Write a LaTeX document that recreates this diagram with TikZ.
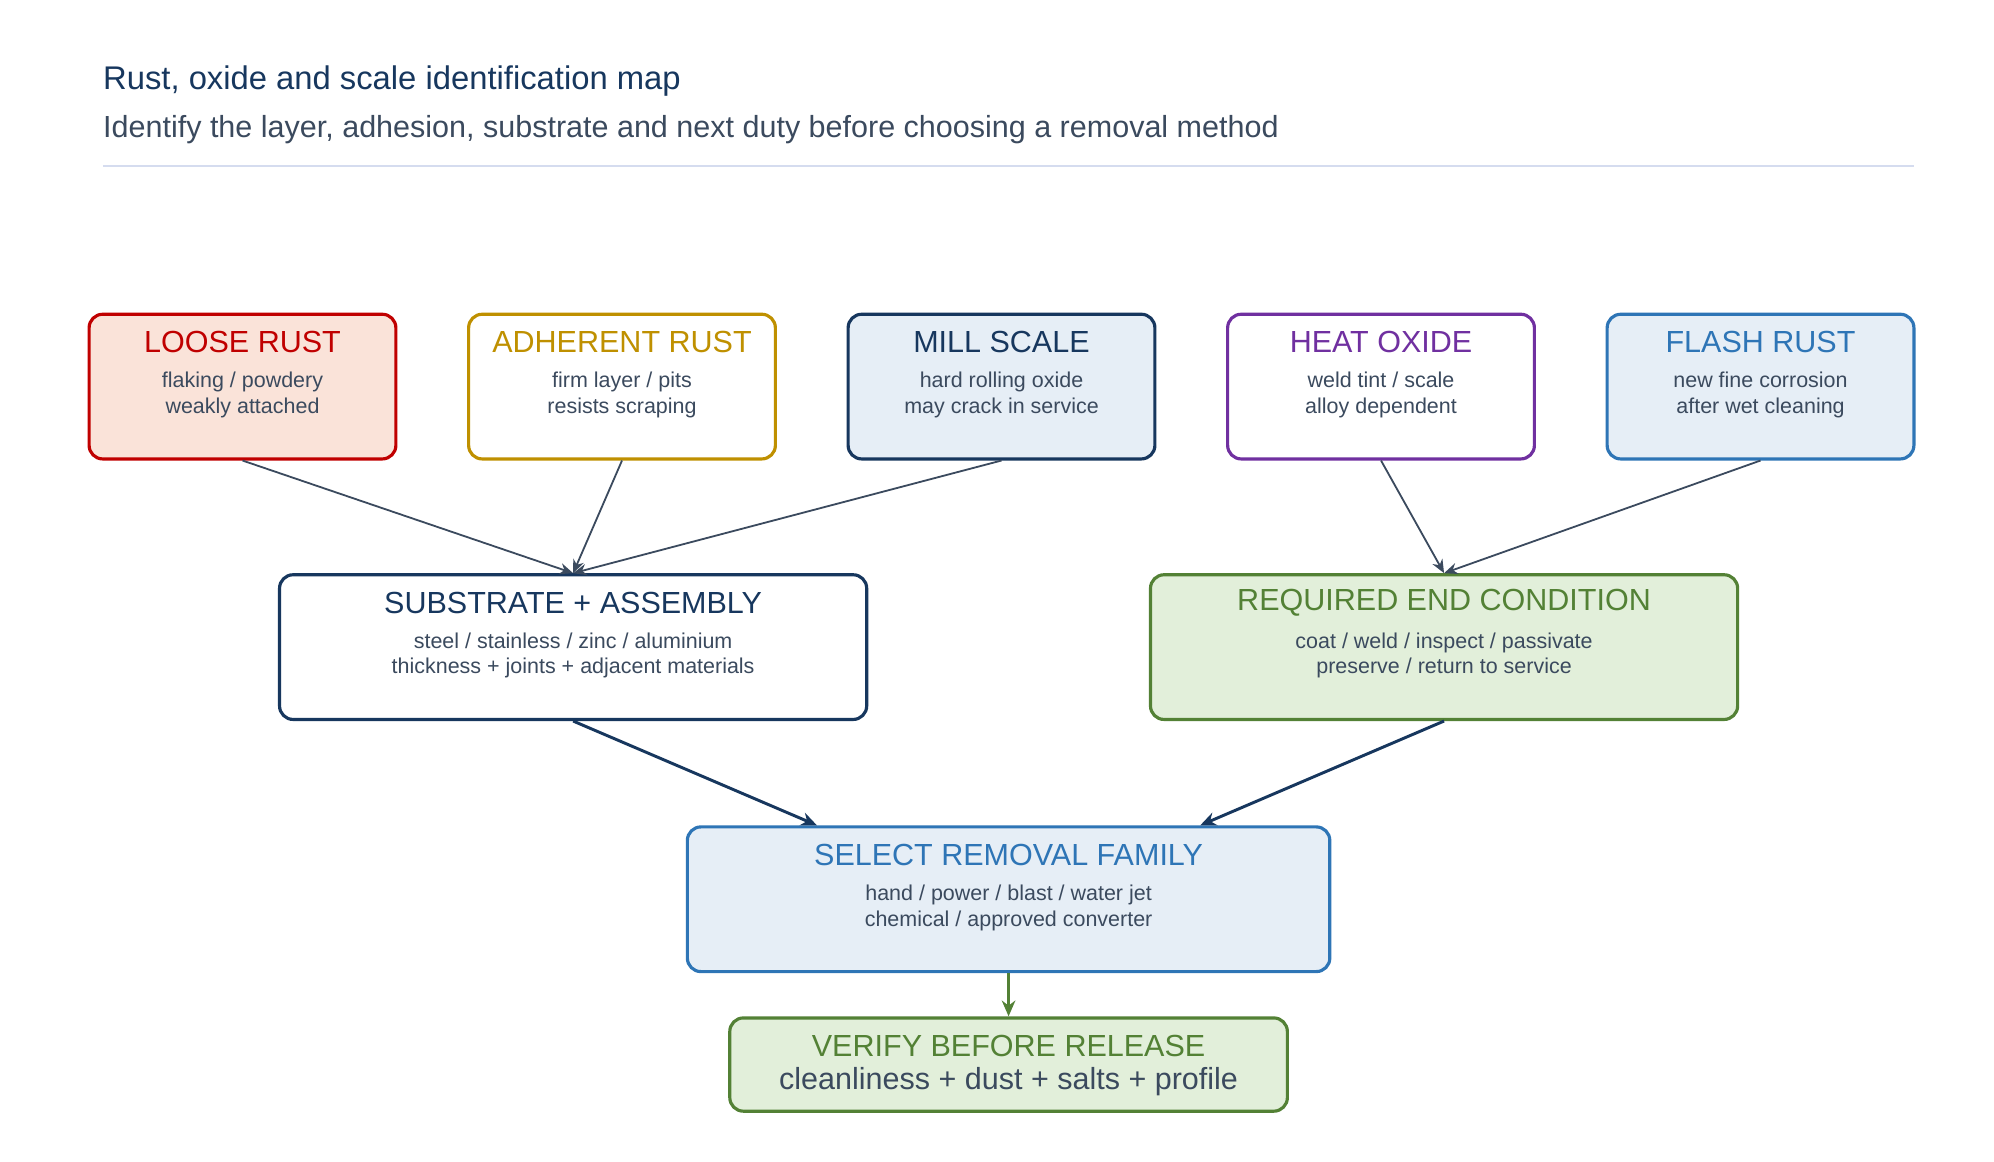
\documentclass[tikz,border=0pt]{standalone}
\usepackage{fontspec}
\setmainfont{Liberation Sans}
\usetikzlibrary{positioning,arrows.meta}
\definecolor{navy}{HTML}{17375E}
\definecolor{txtgray}{HTML}{3B4A5E}
\definecolor{redc}{HTML}{C00000}
\definecolor{redf}{HTML}{FAE3D9}
\definecolor{goldc}{HTML}{BF9000}
\definecolor{purc}{HTML}{7030A0}
\definecolor{bluec}{HTML}{2E75B6}
\definecolor{bluef}{HTML}{E6EEF6}
\definecolor{greenc}{HTML}{538135}
\definecolor{greenf}{HTML}{E2EFDA}
\definecolor{rulec}{HTML}{D5DCEF}
\tikzset{
  box/.style={rectangle, rounded corners=6pt, line width=1.4pt, minimum width=4.77cm, minimum height=2.25cm},
  wide/.style={box, minimum width=9.13cm},
  boxtitle/.style={font=\fontsize{13.5}{16}\selectfont},
  boxbody/.style={font=\fontsize{9.5}{11.4}\selectfont, text=txtgray, align=center},
  arrow/.style={line width=0.8pt, draw=txtgray, -{Stealth[length=6pt,width=5pt]}},
  bigarrow/.style={line width=1.3pt, draw=navy, -{Stealth[length=7pt,width=6pt]}}
}
\begin{document}
\begin{tikzpicture}[x=0.02cm,y=-0.02cm]
\useasboundingbox (0,0) rectangle (1550,902.5);

% heading
\node (title) [anchor=west, text=navy, font=\fontsize{14.5}{16}\selectfont] at (74,63) {Rust, oxide and scale identification map};
\node (subtitle) [anchor=west, text=txtgray, font=\fontsize{13.5}{15}\selectfont] at (74,101) {Identify the layer, adhesion, substrate and next duty before choosing a removal method};
\draw [rulec, line width=0.8pt] (80,129) -- (1488,129);

% layer types
\node (loose) [box, draw=redc, fill=redf] at (188.5,300.5) {};
\node (adherent) [box, draw=goldc, fill=white] at (483.5,300.5) {};
\node (mill) [box, draw=navy, fill=bluef] at (778.5,300.5) {};
\node (heat) [box, draw=purc, fill=white] at (1073.5,300.5) {};
\node (flash) [box, draw=bluec, fill=bluef] at (1368.5,300.5) {};

\node [boxtitle, text=redc] at ([yshift=-23*0.02cm]loose.north) {LOOSE RUST};
\node [boxbody] at ([yshift=-64*0.02cm]loose.north) {flaking / powdery\\weakly attached};
\node [boxtitle, text=goldc] at ([yshift=-23*0.02cm]adherent.north) {ADHERENT RUST};
\node [boxbody] at ([yshift=-64*0.02cm]adherent.north) {firm layer / pits\\resists scraping};
\node [boxtitle, text=navy] at ([yshift=-23*0.02cm]mill.north) {MILL SCALE};
\node [boxbody] at ([yshift=-64*0.02cm]mill.north) {hard rolling oxide\\may crack in service};
\node [boxtitle, text=purc] at ([yshift=-23*0.02cm]heat.north) {HEAT OXIDE};
\node [boxbody] at ([yshift=-64*0.02cm]heat.north) {weld tint / scale\\alloy dependent};
\node [boxtitle, text=bluec] at ([yshift=-23*0.02cm]flash.north) {FLASH RUST};
\node [boxbody] at ([yshift=-64*0.02cm]flash.north) {new fine corrosion\\after wet cleaning};

% context
\node (substrate) [wide, draw=navy, fill=white] at (445.5,503) {};
\node (endcond) [wide, draw=greenc, fill=greenf] at (1122.5,503) {};
\node [boxtitle, text=navy] at ([yshift=-23*0.02cm]substrate.north) {SUBSTRATE + ASSEMBLY};
\node [boxbody] at ([yshift=-64*0.02cm]substrate.north) {steel / stainless / zinc / aluminium\\thickness + joints + adjacent materials};
\node [boxtitle, text=greenc] at ([yshift=-23*0.02cm]endcond.north) {REQUIRED END CONDITION};
\node [boxbody] at ([yshift=-64*0.02cm]endcond.north) {coat / weld / inspect / passivate\\preserve / return to service};

% decision
\node (select) [box, minimum width=9.99cm, draw=bluec, fill=bluef] at (784,699) {};
\node [boxtitle, text=bluec] at ([yshift=-23*0.02cm]select.north) {SELECT REMOVAL FAMILY};
\node [boxbody] at ([yshift=-64*0.02cm]select.north) {hand / power / blast / water jet\\chemical / approved converter};
\node (verify) [box, minimum width=8.67cm, minimum height=1.45cm, draw=greenc, fill=greenf] at (784,827.5) {};
\node [boxtitle, text=greenc] at ([yshift=-23*0.02cm]verify.north) {VERIFY BEFORE RELEASE};
\node [boxtitle, text=txtgray] at ([yshift=-51*0.02cm]verify.north) {cleanliness + dust + salts + profile};

% connectors
\draw [arrow] (loose.south) -- (substrate.north);
\draw [arrow] (adherent.south) -- (substrate.north);
\draw [arrow] (mill.south) -- (substrate.north);
\draw [arrow] (heat.south) -- (endcond.north);
\draw [arrow] (flash.south) -- (endcond.north);
\draw [bigarrow] (substrate.south) -- ([xshift=-149*0.02cm]select.north);
\draw [bigarrow] (endcond.south) -- ([xshift=149*0.02cm]select.north);
\draw [bigarrow, draw=greenc] (select.south) -- (verify.north);
\end{tikzpicture}
\end{document}
